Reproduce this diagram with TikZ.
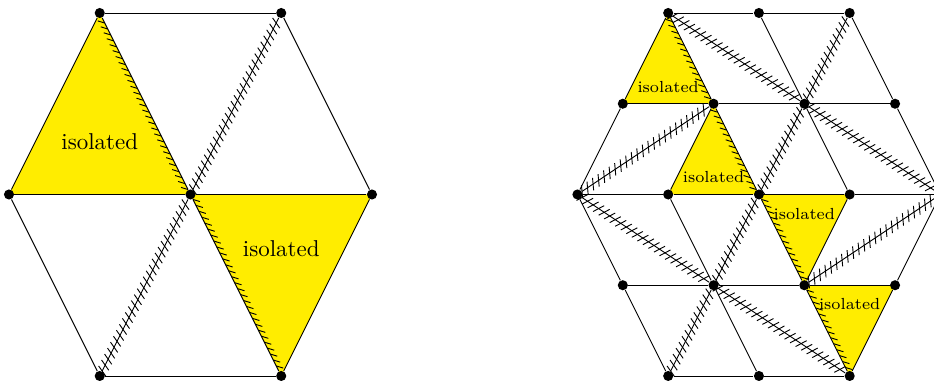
\documentclass[tikz,border=0pt]{standalone}
\usepackage{tikz}
\usetikzlibrary{decorations.markings, backgrounds}

\definecolor{isoyellow}{RGB}{255,237,0}

\tikzset{
    hatch/.style={postaction={decorate, decoration={markings,
        mark=between positions 0 and 1 step 2.9pt with {\draw[line width=0.4pt] (0,0) -- (2.2pt,2.3pt);}}}},
    dhatch/.style={postaction={decorate, decoration={markings,
        mark=between positions 0 and 1 step 2.9pt with {\draw[line width=0.4pt] (-1.3pt,-2.4pt) -- (1.3pt,2.4pt);}}}}
}

\begin{document}
\begin{tikzpicture}[x=39.58pt, y=39.58pt,
    vtx/.style={circle, fill=black, inner sep=0pt, minimum size=4.4pt},
    lbl/.style={inner sep=0pt, font=\normalsize},
    slbl/.style={inner sep=0pt, font=\scriptsize}]
    \useasboundingbox (-2.099,-2.055) rectangle (8.193,2.143);

    % Coarse hexagon
    \node[vtx] (L_C)  at (0,0) {};
    \node[vtx] (L_E)  at (2,0) {};
    \node[vtx] (L_NE) at (1,2) {};
    \node[vtx] (L_NW) at (-1,2) {};
    \node[vtx] (L_W)  at (-2,0) {};
    \node[vtx] (L_SW) at (-1,-2) {};
    \node[vtx] (L_SE) at (1,-2) {};

    \begin{scope}[on background layer]
        \fill[isoyellow] (L_NW.center) -- (L_W.center) -- (L_C.center) -- cycle;
        \fill[isoyellow] (L_C.center) -- (L_SE.center) -- (L_E.center) -- cycle;
    \end{scope}

    \draw (L_NW) -- (L_NE); \draw (L_NE) -- (L_E); \draw (L_E) -- (L_SE);
    \draw (L_SE) -- (L_SW); \draw (L_SW) -- (L_W); \draw (L_W) -- (L_NW);
    \draw (L_W) -- (L_C); \draw (L_C) -- (L_E);

    \draw[hatch] (L_C) -- (L_NW); \draw[hatch] (L_C) -- (L_SE);
    \draw[dhatch] (L_SW) -- (L_C); \draw[dhatch] (L_C) -- (L_NE);

    \node[lbl] (L_iso1) at (-1,0.58) {isolated};
    \node[lbl] (L_iso2) at (1,-0.6) {isolated};

    % Refined hexagon
    \begin{scope}[shift={(6.264,0)}]
    \node[vtx] (R_a1) at (-1,2) {}; \node[vtx] (R_a2) at (0,2) {}; \node[vtx] (R_a3) at (1,2) {};
    \node[vtx] (R_b1) at (-1.5,1) {}; \node[vtx] (R_b2) at (-0.5,1) {};
    \node[vtx] (R_b3) at (0.5,1) {}; \node[vtx] (R_b4) at (1.5,1) {};
    \node[vtx] (R_c1) at (-2,0) {}; \node[vtx] (R_c2) at (-1,0) {}; \node[vtx] (R_c3) at (0,0) {};
    \node[vtx] (R_c4) at (1,0) {}; \node[vtx] (R_c5) at (2,0) {};
    \node[vtx] (R_d1) at (-1.5,-1) {}; \node[vtx] (R_d2) at (-0.5,-1) {};
    \node[vtx] (R_d3) at (0.5,-1) {}; \node[vtx] (R_d4) at (1.5,-1) {};
    \node[vtx] (R_e1) at (-1,-2) {}; \node[vtx] (R_e2) at (0,-2) {}; \node[vtx] (R_e3) at (1,-2) {};

    \begin{scope}[on background layer]
        \fill[isoyellow] (R_a1.center) -- (R_b1.center) -- (R_b2.center) -- cycle;
        \fill[isoyellow] (R_b2.center) -- (R_c2.center) -- (R_c3.center) -- cycle;
        \fill[isoyellow] (R_c3.center) -- (R_d3.center) -- (R_c4.center) -- cycle;
        \fill[isoyellow] (R_d3.center) -- (R_e3.center) -- (R_d4.center) -- cycle;
    \end{scope}

    % rows
    \draw (R_a1) -- (R_a2); \draw (R_a2) -- (R_a3);
    \draw (R_b1) -- (R_b2); \draw (R_b2) -- (R_b3); \draw (R_b3) -- (R_b4);
    \draw (R_c1) -- (R_c2); \draw (R_c2) -- (R_c3); \draw (R_c3) -- (R_c4); \draw (R_c4) -- (R_c5);
    \draw (R_d1) -- (R_d2); \draw (R_d2) -- (R_d3); \draw (R_d3) -- (R_d4);
    \draw (R_e1) -- (R_e2); \draw (R_e2) -- (R_e3);

    % boundary and inner edges
    \draw (R_c1) -- (R_b1); \draw (R_b1) -- (R_a1); \draw (R_a3) -- (R_b4); \draw (R_b4) -- (R_c5);
    \draw (R_c5) -- (R_d4); \draw (R_d4) -- (R_e3); \draw (R_c1) -- (R_d1); \draw (R_d1) -- (R_e1);
    \draw (R_c2) -- (R_b2); \draw (R_a2) -- (R_b3); \draw (R_b3) -- (R_c4);
    \draw (R_c2) -- (R_d2); \draw (R_d2) -- (R_e2); \draw (R_d3) -- (R_c4);

    \draw[hatch] (R_b2) -- (R_a1); \draw[hatch] (R_c3) -- (R_b2);
    \draw[hatch] (R_c3) -- (R_d3); \draw[hatch] (R_d3) -- (R_e3);

    \draw[dhatch] (R_a1) -- (R_b3); \draw[dhatch] (R_b3) -- (R_c5);
    \draw[dhatch] (R_c1) -- (R_b2); \draw[dhatch] (R_d3) -- (R_c5);
    \draw[dhatch] (R_e1) -- (R_d2); \draw[dhatch] (R_d2) -- (R_c3);
    \draw[dhatch] (R_c3) -- (R_b3); \draw[dhatch] (R_b3) -- (R_a3);
    \draw[dhatch] (R_c1) -- (R_d2); \draw[dhatch] (R_d2) -- (R_e3);

    \node[slbl] (R_iso1) at (-1,1.18) {isolated};
    \node[slbl] (R_iso2) at (-0.5,0.19) {isolated};
    \node[slbl] (R_iso3) at (0.5,-0.21) {isolated};
    \node[slbl] (R_iso4) at (1,-1.21) {isolated};
    \end{scope}
\end{tikzpicture}
\end{document}
